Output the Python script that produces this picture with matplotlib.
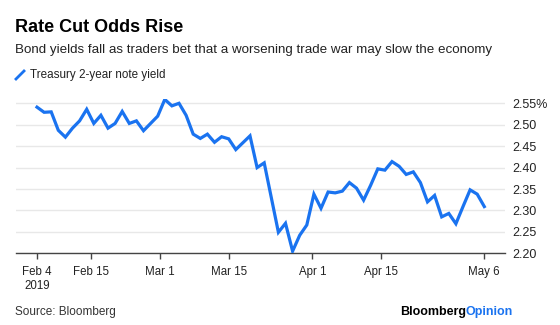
import matplotlib
matplotlib.use("Agg")
import matplotlib.pyplot as plt
import numpy as np
import pandas as pd

# Data: Treasury 2-year note yield, business days Feb 4 - May 6, 2019
dates = pd.bdate_range("2019-02-04", "2019-05-06")
dates = dates[~dates.isin(pd.to_datetime(["2019-02-18", "2019-04-19"]))]
yields = [2.541, 2.529, 2.530, 2.487, 2.471, 2.492, 2.509, 2.536, 2.503, 2.522,
          2.492, 2.503, 2.531, 2.503, 2.509, 2.486, 2.503, 2.520, 2.559, 2.544,
          2.550, 2.522, 2.478, 2.468, 2.478, 2.459, 2.472, 2.467, 2.442, 2.458,
          2.474, 2.400, 2.411, 2.330, 2.249, 2.270, 2.205, 2.242, 2.266, 2.338,
          2.305, 2.343, 2.341, 2.345, 2.365, 2.352, 2.324, 2.359, 2.397, 2.394,
          2.414, 2.403, 2.384, 2.390, 2.365, 2.320, 2.335, 2.285, 2.293, 2.269,
          2.309, 2.348, 2.338, 2.309]
tick_dates = ["2019-02-04", "2019-02-15", "2019-03-01", "2019-03-15",
              "2019-04-01", "2019-04-15", "2019-05-06"]
tick_labels = ["Feb 4\n2019", "Feb 15", "Mar 1", "Mar 15", "Apr 1", "Apr 15", "May 6"]
y_ticks = [2.20, 2.25, 2.30, 2.35, 2.40, 2.45, 2.50, 2.55]
y_labels = ["2.20", "2.25", "2.30", "2.35", "2.40", "2.45", "2.50", "2.55%"]

n = len(yields)
x = np.arange(n)
# tick positions on a calendar scale mapped onto the evenly spaced points
start = pd.Timestamp(tick_dates[0])
end = pd.Timestamp(tick_dates[-1])
span = (end - start).days
tick_pos = [(pd.Timestamp(d) - start).days / span * (n - 1) for d in tick_dates]

plt.rcParams['font.family'] = ['Liberation Sans', 'DejaVu Sans']
BLUE = "#1a73f0"

fig = plt.figure(figsize=(5.6, 3.25), dpi=100)
W, H = 560, 325
L, R, T, B = 16, 505, 99, 253.3
ax = fig.add_axes([L / W, 1 - B / H, (R - L) / W, (B - T) / H])

ax.plot(x, yields, color=BLUE, lw=2.3, solid_joinstyle="miter", zorder=3)

ax.set_ylim(2.20, 2.20 + (B - T) / 428.6)
ax.set_xlim((L - 37) / 7.1, (R - 37) / 7.1)

ax.set_yticks(y_ticks)
ax.set_yticklabels(y_labels)
ax.yaxis.tick_right()
ax.tick_params(axis="y", length=0, pad=5.5, labelsize=9, labelcolor="#222222")
ax.grid(axis="y", color="#e8e8e8", lw=1)
ax.set_axisbelow(True)

ax.set_xticks(tick_pos)
ax.set_xticklabels(tick_labels)
ax.tick_params(axis="x", length=4, width=1, color="#444444", pad=5,
               labelsize=8.3, labelcolor="#222222")

for s in ["top", "right", "left"]:
    ax.spines[s].set_visible(False)
ax.spines["bottom"].set_color("#444444")
ax.spines["bottom"].set_linewidth(1)

# Titles
fig.text(15 / W, 1 - 27 / H, "Rate Cut Odds Rise", fontsize=13, fontweight="bold",
         ha="left", va="center", color="black")
fig.text(15 / W, 1 - 50 / H,
         "Bond yields fall as traders bet that a worsening trade war may slow the economy",
         fontsize=9.65, ha="left", va="center", color="#222222")

# Legend
fig.add_artist(plt.Line2D([16 / W, 24 / W], [1 - 79 / H, 1 - 71 / H], color=BLUE, lw=2))
fig.text(30 / W, 1 - 75 / H, "Treasury 2-year note yield", fontsize=8.4,
         ha="left", va="center", color="#222222")

# Footer
fig.text(15 / W, 1 - 311.5 / H, "Source: Bloomberg", fontsize=8.5, ha="left",
         va="center", color="#333333")
t1 = fig.text(400 / W, 1 - 311.5 / H, "Bloomberg", fontsize=9, fontweight="bold",
              ha="left", va="center", color="black")
fig.canvas.draw()
bb = t1.get_window_extent()
fig.text(bb.x1 / fig.bbox.width, 1 - 311.5 / H, "Opinion", fontsize=9,
         fontweight="bold", ha="left", va="center", color=BLUE)

fig.savefig("out.png", dpi=100)
